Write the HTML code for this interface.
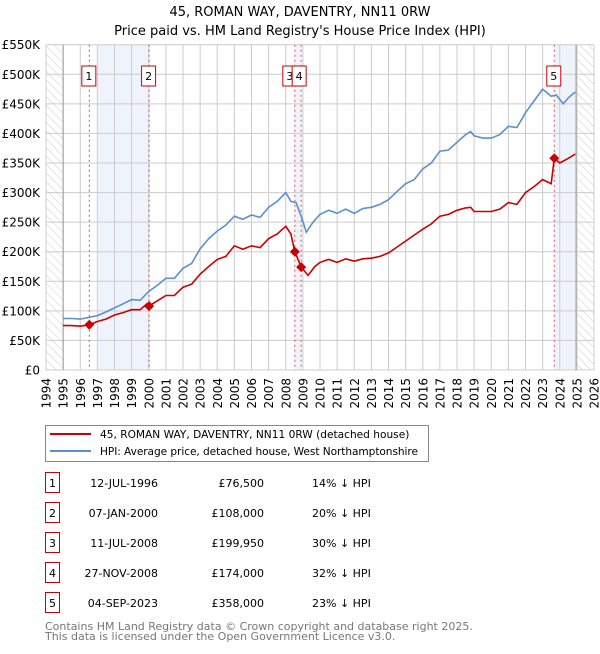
<!DOCTYPE html>
<html><head><meta charset="utf-8"><style>
body{margin:0;background:#fff;width:600px;height:650px;overflow:hidden;font-family:"DejaVu Sans","Liberation Sans",sans-serif;}
svg text{font-family:"DejaVu Sans","Liberation Sans",sans-serif;}
</style></head><body>
<svg id="c" width="600" height="650">
<defs><pattern id="hatch" width="6" height="6" patternUnits="userSpaceOnUse" patternTransform="rotate(-45)"><line x1="0" y1="0" x2="0" y2="6" stroke="#ccc" stroke-width="1"/></pattern></defs>
<text x="300" y="16" text-anchor="middle" font-size="13">45, ROMAN WAY, DAVENTRY, NN11 0RW</text>
<text x="300" y="35" text-anchor="middle" font-size="13">Price paid vs. HM Land Registry's House Price Index (HPI)</text>
<g id="plot"></g>
<g>
<rect x="45.5" y="425.5" width="383" height="36" fill="#fff" stroke="#888"/>
<line x1="50" y1="434" x2="91" y2="434" stroke="#cc0000" stroke-width="2"/>
<text x="100" y="438" font-size="10.6">45, ROMAN WAY, DAVENTRY, NN11 0RW (detached house)</text>
<line x1="50" y1="451" x2="91" y2="451" stroke="#5b8fd0" stroke-width="2"/>
<text x="100" y="455" font-size="10.6" textLength="318">HPI: Average price, detached house, West Northamptonshire</text>
</g>
<g id="table"></g>
<text x="45" y="630" font-size="11" fill="#777">Contains HM Land Registry data © Crown copyright and database right 2025.</text>
<text x="45" y="640" font-size="11" fill="#777">This data is licensed under the Open Government Licence v3.0.</text>
</svg>
<script>
const hpiYears=[1995,1995.5,1996,1996.5,1997,1997.5,1998,1998.5,1999,1999.5,2000,2000.5,2001,2001.5,2002,2002.5,2003,2003.5,2004,2004.5,2005,2005.5,2006,2006.5,2007,2007.5,2008,2008.3,2008.6,2008.9,2009.2,2009.6,2010,2010.5,2011,2011.5,2012,2012.5,2013,2013.5,2014,2014.5,2015,2015.5,2016,2016.5,2017,2017.5,2018,2018.5,2018.8,2019,2019.5,2020,2020.5,2021,2021.5,2022,2022.5,2023,2023.5,2023.8,2024.2,2024.5,2024.9];
const hpiValues=[87,87,86,89,92,98,105,112,119,118,133,143,155,155,172,180,205,222,235,245,260,255,262,258,275,285,300,285,283,260,233,250,263,270,265,272,265,273,275,280,288,302,315,322,340,350,370,372,385,398,403,396,392,392,398,412,410,435,455,475,463,465,450,460,470];
const ppYears=[1995,1995.5,1996,1996.53,1997,1997.5,1998,1998.5,1999,1999.5,1999.9,2000.02,2000.5,2001,2001.5,2002,2002.5,2003,2003.5,2004,2004.5,2005,2005.5,2006,2006.5,2007,2007.5,2008,2008.3,2008.53,2008.9,2009.3,2009.7,2010,2010.5,2011,2011.5,2012,2012.5,2013,2013.5,2014,2014.5,2015,2015.5,2016,2016.5,2017,2017.5,2018,2018.5,2018.8,2019,2020,2020.5,2021,2021.5,2022,2022.5,2023,2023.5,2023.68,2024,2024.5,2024.9];
const ppValues=[75,75,74,76.5,82,86,93,97,102,102,112,108,117,126,126,140,145,162,175,187,192,210,204,210,207,222,230,243,230,199.95,174,160,175,182,187,182,188,184,188,189,192,198,208,218,228,238,247,260,263,270,274,275,268,268,272,283,280,300,310,322,315,358,350,358,365];
const saleYears=[1996.53,2000.02,2008.53,2008.9,2023.68];
const saleValues=[76.5,108,199.95,174,358];
const saleLabels=["1","2","3","4","5"];
const saleDates=["12-JUL-1996","07-JAN-2000","11-JUL-2008","27-NOV-2008","04-SEP-2023"];
const salePrices=["£76,500","£108,000","£199,950","£174,000","£358,000"];
const salePcts=["14% ↓ HPI","20% ↓ HPI","30% ↓ HPI","32% ↓ HPI","23% ↓ HPI"];
const yTicks=[0,50,100,150,200,250,300,350,400,450,500,550];
const yTickLabels=["£0","£50K","£100K","£150K","£200K","£250K","£300K","£350K","£400K","£450K","£500K","£550K"];

const L=46,R=594,T=44.7,B=370,Y0=1994,Y1=2026,VMAX=550;
const xs=y=>L+(y-Y0)/(Y1-Y0)*(R-L);
const ys=v=>B-v/VMAX*(B-T);
const NS="http://www.w3.org/2000/svg";
const plot=document.getElementById('plot');
function mk(tag,attrs,parent){const e=document.createElementNS(NS,tag);for(const k in attrs)e.setAttribute(k,attrs[k]);(parent||plot).appendChild(e);return e;}

let e;
e=mk('rect',{x:xs(1997),y:T,width:xs(2000.02)-xs(1997),height:B-T,fill:'#eef3fc'});


e=mk('rect',{x:xs(2008.53),y:T,width:xs(2008.9)-xs(2008.53),height:B-T,fill:'#eef3fc'});


e=mk('rect',{x:xs(2023.68),y:T,width:xs(2024.95)-xs(2023.68),height:B-T,fill:'#eef3fc'});


e=mk('rect',{x:L,y:T,width:xs(1995)-L,height:B-T,fill:'url(#hatch)'});


e=mk('rect',{x:xs(2024.95),y:T,width:R-xs(2024.95),height:B-T,fill:'url(#hatch)'});



for(let yr=Y0;yr<=Y1;yr++){
  e=mk('line',{x1:xs(yr),x2:xs(yr),y1:T,y2:B,stroke:'#ccc','stroke-width':1});
  
  
  e=mk('text',{x:0,y:0,'font-size':12,'text-anchor':'end',transform:`translate(${xs(yr)+4.5},378) rotate(-90)`});
  e.textContent=yr;
  
  
}
yTicks.forEach((v,i)=>{
  e=mk('line',{x1:L,x2:R,y1:ys(v),y2:ys(v),stroke:'#ccc','stroke-width':1});
  
  
  e=mk('text',{x:L-6,y:ys(v)+4.5,'font-size':12,'text-anchor':'end'});
  e.textContent=yTickLabels[i];
  
  
});
e=mk('line',{x1:xs(1995),x2:xs(1995),y1:T,y2:B,stroke:'#999'});


e=mk('line',{x1:xs(2024.95),x2:xs(2024.95),y1:T,y2:B,stroke:'#999'});



saleYears.forEach((yr,i)=>{
  e=mk('line',{x1:xs(yr),x2:xs(yr),y1:T,y2:B,stroke:'#e05050','stroke-width':1,'stroke-dasharray':'2,3'});
  
  
});
saleYears.forEach((yr,i)=>{
  let bx=xs(yr)-7.5;
  if(i==2) bx=xs(yr)-12;
  if(i==3) bx=xs(yr)-9;
  const g=mk('g',{});
  
  
  mk('rect',{x:bx,y:66,width:14,height:20,fill:'#fff',stroke:'#cc0000'},g);
  const t=mk('text',{x:bx+7,y:80,'font-size':11,'text-anchor':'middle'},g);
  t.textContent=saleLabels[i];
});

function path(xa,va,color,name){
  const d=xa.map((x,i)=>(i?'L':'M')+xs(x).toFixed(1)+','+ys(va[i]).toFixed(1)).join('');
  const p=mk('path',{d:d,fill:'none',stroke:color,'stroke-width':1.6});
  
  
}
path(hpiYears,hpiValues,'#5b8fd0','hpi-line');
path(ppYears,ppValues,'#cc0000','price-paid-line');
saleYears.forEach((yr,i)=>{
  const x=xs(yr),y=ys(saleValues[i]);
  e=mk('polygon',{points:`${x},${y-5} ${x+5},${y} ${x},${y+5} ${x-5},${y}`,fill:'#cc0000'});
  
  
});

const tb=document.getElementById('table');
saleLabels.forEach((lab,i)=>{
  const y=483+i*30;
  const g=mk('g',{},tb);
  
  
  mk('rect',{x:45.5,y:y-10.5,width:14,height:20,fill:'#fff',stroke:'#cc0000'},g);
  let t=mk('text',{x:52.5,y:y+4,'font-size':11,'text-anchor':'middle'},g);t.textContent=lab;
  t=mk('text',{x:158,y:y+4,'font-size':11,'text-anchor':'end'},g);t.textContent=saleDates[i];
  t=mk('text',{x:264,y:y+4,'font-size':11,'text-anchor':'end'},g);t.textContent=salePrices[i];
  t=mk('text',{x:312,y:y+4,'font-size':11},g);t.textContent=salePcts[i];
});
</script>
</body></html>
